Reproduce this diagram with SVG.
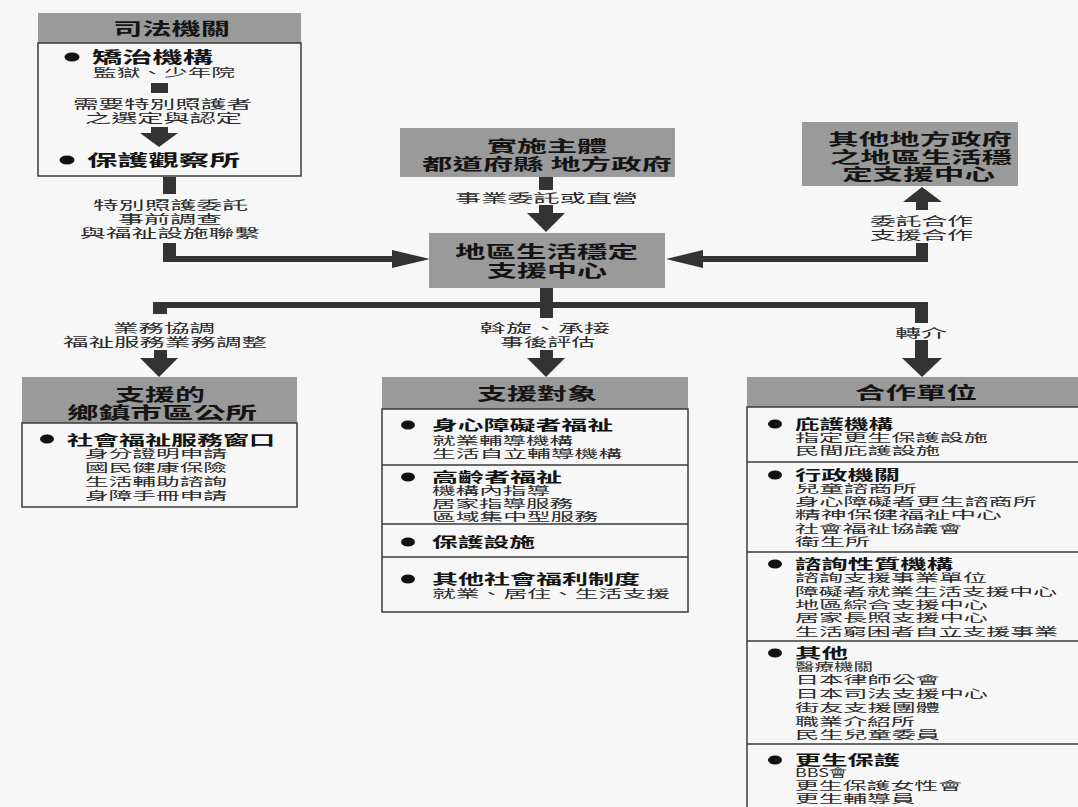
<svg xmlns="http://www.w3.org/2000/svg" width="1078" height="807" viewBox="0 0 1078 807">
  <defs>
    <style>
      .bg { fill: #f7f7f7; }
      .hdr { fill: #9a9a9a; }
      .box { fill: #f7f7f7; stroke: #3a3a3a; stroke-width: 1.5; }
      .div { stroke: #3a3a3a; stroke-width: 1.5; }
      .arw { fill: #333333; }
      .dot { fill: #111111; }
      text { font-family: "Noto Sans CJK TC", "Noto Sans CJK SC", sans-serif; fill: #141414; }
      .h { font-size: 16.5px; font-weight: bold; }
      .t { font-size: 15.5px; font-weight: bold; }
      .tb { font-size: 13.5px; font-weight: bold; }
      .i { font-size: 11.5px; fill: #2a2a2a; }
      .lb { font-size: 12.5px; fill: #2a2a2a; }
    </style>
  </defs>

  <rect class="bg" x="0" y="0" width="1078" height="807"/>

  <!-- connectors -->
  <g id="connectors">
    <!-- judiciary -> center -->
    <rect class="arw" x="163" y="177" width="13" height="17"/>
    <rect class="arw" x="163" y="243" width="13" height="19"/>
    <rect class="arw" x="163" y="256" width="230" height="6"/>
    <polygon class="arw" points="392,250 430,259 392,268"/>
    <!-- implementing body -> center -->
    <rect class="arw" x="539" y="177" width="14" height="13"/>
    <rect class="arw" x="539" y="205" width="14" height="9"/>
    <polygon class="arw" points="527,213 565,213 546,232"/>
    <!-- center <-> other local centers -->
    <polygon class="arw" points="666,259 703,250 703,268"/>
    <rect class="arw" x="702" y="256" width="226" height="6"/>
    <rect class="arw" x="916" y="243" width="12" height="19"/>
    <rect class="arw" x="916" y="201" width="12" height="9"/>
    <polygon class="arw" points="903,202 942,202 922,187"/>
    <!-- center -> three branches -->
    <rect class="arw" x="540" y="288" width="13" height="15"/>
    <rect class="arw" x="153" y="302" width="775" height="6"/>
    <rect class="arw" x="153" y="302" width="14" height="12"/>
    <rect class="arw" x="154" y="350" width="13" height="9"/>
    <polygon class="arw" points="140,358 178,358 159,377"/>
    <rect class="arw" x="540" y="302" width="13" height="16"/>
    <rect class="arw" x="540" y="350" width="13" height="9"/>
    <polygon class="arw" points="527,358 565,358 546,377"/>
    <rect class="arw" x="915" y="302" width="13" height="21"/>
    <rect class="arw" x="915" y="340" width="13" height="19"/>
    <polygon class="arw" points="902,358 942,358 922,377"/>
  </g>

  <!-- connector labels -->
  <g id="labels">
    <text class="lb" x="93" y="210" textLength="155" lengthAdjust="spacingAndGlyphs">特別照護委託</text>
    <text class="lb" x="118" y="224" textLength="104" lengthAdjust="spacingAndGlyphs">事前調查</text>
    <text class="lb" x="80" y="238" textLength="180" lengthAdjust="spacingAndGlyphs">與福祉設施聯繫</text>
    <text class="lb" x="455" y="203" textLength="183" lengthAdjust="spacingAndGlyphs">事業委託或直營</text>
    <text class="lb" x="870" y="226" textLength="103" lengthAdjust="spacingAndGlyphs">委託合作</text>
    <text class="lb" x="870" y="240" textLength="103" lengthAdjust="spacingAndGlyphs">支援合作</text>
    <text class="lb" x="113" y="333" textLength="102" lengthAdjust="spacingAndGlyphs">業務協調</text>
    <text class="lb" x="63" y="347" textLength="204" lengthAdjust="spacingAndGlyphs">福祉服務業務調整</text>
    <text class="lb" x="480" y="333" textLength="130" lengthAdjust="spacingAndGlyphs">斡旋、承接</text>
    <text class="lb" x="500" y="347" textLength="95" lengthAdjust="spacingAndGlyphs">事後評估</text>
    <text class="lb" x="895" y="338" textLength="52" lengthAdjust="spacingAndGlyphs">轉介</text>
  </g>

  <!-- judiciary -->
  <g id="judiciary">
    <rect class="hdr" x="38" y="13" width="263" height="30"/>
    <text class="h" x="113" y="35" textLength="117" lengthAdjust="spacingAndGlyphs">司法機關</text>
    <rect class="box" x="38" y="43" width="263" height="133"/>
    <ellipse class="dot" cx="72" cy="57" rx="7.5" ry="4.5"/>
    <text class="t" x="92" y="63" textLength="121" lengthAdjust="spacingAndGlyphs">矯治機構</text>
    <text class="i" x="93" y="77" textLength="142" lengthAdjust="spacingAndGlyphs">監獄、少年院</text>
    <rect class="arw" x="151" y="83" width="17" height="10"/>
    <text class="lb" x="73" y="109" textLength="179" lengthAdjust="spacingAndGlyphs">需要特別照護者</text>
    <text class="lb" x="85" y="123" textLength="157" lengthAdjust="spacingAndGlyphs">之選定與認定</text>
    <rect class="arw" x="151" y="127" width="17" height="7"/>
    <polygon class="arw" points="140,133 178,133 159,147"/>
    <ellipse class="dot" cx="67" cy="160" rx="7.5" ry="4.5"/>
    <text class="t" x="87" y="166" textLength="153" lengthAdjust="spacingAndGlyphs">保護觀察所</text>
  </g>

  <!-- implementing body -->
  <g id="implementer">
    <rect class="hdr" x="400" y="128" width="275" height="49"/>
    <text class="t" x="487" y="152" textLength="120" lengthAdjust="spacingAndGlyphs">實施主體</text>
    <text class="t" x="422" y="170" textLength="250" lengthAdjust="spacingAndGlyphs">都道府縣 地方政府</text>
  </g>

  <!-- regional centre -->
  <g id="center">
    <rect class="hdr" x="429" y="233" width="236" height="55"/>
    <text class="h" x="455" y="258" textLength="183" lengthAdjust="spacingAndGlyphs">地區生活穩定</text>
    <text class="h" x="487" y="277" textLength="120" lengthAdjust="spacingAndGlyphs">支援中心</text>
  </g>

  <!-- other local centres -->
  <g id="other-centers">
    <rect class="hdr" x="802" y="122" width="216" height="64"/>
    <text class="t" x="828" y="145" textLength="184" lengthAdjust="spacingAndGlyphs">其他地方政府</text>
    <text class="t" x="830" y="163" textLength="182" lengthAdjust="spacingAndGlyphs">之地區生活穩</text>
    <text class="t" x="842" y="180" textLength="153" lengthAdjust="spacingAndGlyphs">定支援中心</text>
  </g>

  <!-- municipal offices -->
  <g id="municipal">
    <rect class="hdr" x="22" y="377" width="275" height="46"/>
    <text class="h" x="115" y="401" textLength="90" lengthAdjust="spacingAndGlyphs">支援的</text>
    <text class="h" x="67" y="419" textLength="190" lengthAdjust="spacingAndGlyphs">鄉鎮市區公所</text>
    <rect class="box" x="22" y="423" width="275" height="84"/>
    <ellipse class="dot" cx="47" cy="439" rx="7" ry="4.5"/>
    <text class="tb" x="67" y="445" textLength="208" lengthAdjust="spacingAndGlyphs">社會福祉服務窗口</text>
    <text class="i" x="85" y="458" textLength="142" lengthAdjust="spacingAndGlyphs">身分證明申請</text>
    <text class="i" x="85" y="472" textLength="142" lengthAdjust="spacingAndGlyphs">國民健康保險</text>
    <text class="i" x="85" y="486" textLength="142" lengthAdjust="spacingAndGlyphs">生活輔助諮詢</text>
    <text class="i" x="85" y="500" textLength="142" lengthAdjust="spacingAndGlyphs">身障手冊申請</text>
  </g>

  <!-- support targets -->
  <g id="targets">
    <rect class="hdr" x="382" y="377" width="306" height="32"/>
    <text class="h" x="477" y="400" textLength="120" lengthAdjust="spacingAndGlyphs">支援對象</text>
    <rect class="box" x="382" y="409" width="306" height="203"/>
    <line class="div" x1="382" y1="465" x2="688" y2="465"/>
    <line class="div" x1="382" y1="524" x2="688" y2="524"/>
    <line class="div" x1="382" y1="557" x2="688" y2="557"/>
    <ellipse class="dot" cx="408" cy="425" rx="7" ry="4.5"/>
    <text class="tb" x="432" y="430" textLength="181" lengthAdjust="spacingAndGlyphs">身心障礙者福祉</text>
    <text class="i" x="432" y="445" textLength="141" lengthAdjust="spacingAndGlyphs">就業輔導機構</text>
    <text class="i" x="432" y="458" textLength="190" lengthAdjust="spacingAndGlyphs">生活自立輔導機構</text>
    <ellipse class="dot" cx="408" cy="477" rx="7" ry="4.5"/>
    <text class="tb" x="432" y="482" textLength="130" lengthAdjust="spacingAndGlyphs">高齡者福祉</text>
    <text class="i" x="432" y="495" textLength="118" lengthAdjust="spacingAndGlyphs">機構內指導</text>
    <text class="i" x="432" y="508" textLength="141" lengthAdjust="spacingAndGlyphs">居家指導服務</text>
    <text class="i" x="432" y="521" textLength="166" lengthAdjust="spacingAndGlyphs">區域集中型服務</text>
    <ellipse class="dot" cx="408" cy="542" rx="7" ry="4.5"/>
    <text class="tb" x="432" y="547" textLength="103" lengthAdjust="spacingAndGlyphs">保護設施</text>
    <ellipse class="dot" cx="408" cy="579" rx="7" ry="4.5"/>
    <text class="tb" x="432" y="584" textLength="208" lengthAdjust="spacingAndGlyphs">其他社會福利制度</text>
    <text class="i" x="432" y="598" textLength="238" lengthAdjust="spacingAndGlyphs">就業、居住、生活支援</text>
  </g>

  <!-- partner organisations -->
  <g id="partners">
    <rect class="hdr" x="747" y="377" width="340" height="30"/>
    <text class="h" x="855" y="399" textLength="122" lengthAdjust="spacingAndGlyphs">合作單位</text>
    <rect class="box" x="747" y="407" width="340" height="420"/>
    <line class="div" x1="747" y1="462" x2="1078" y2="462"/>
    <line class="div" x1="747" y1="552" x2="1078" y2="552"/>
    <line class="div" x1="747" y1="641" x2="1078" y2="641"/>
    <line class="div" x1="747" y1="744" x2="1078" y2="744"/>

    <ellipse class="dot" cx="775" cy="424" rx="7" ry="4.5"/>
    <text class="tb" x="795" y="429" textLength="98" lengthAdjust="spacingAndGlyphs">庇護機構</text>
    <text class="i" x="795" y="442" textLength="193" lengthAdjust="spacingAndGlyphs">指定更生保護設施</text>
    <text class="i" x="795" y="455" textLength="145" lengthAdjust="spacingAndGlyphs">民間庇護設施</text>

    <ellipse class="dot" cx="775" cy="475" rx="7" ry="4.5"/>
    <text class="tb" x="795" y="480" textLength="105" lengthAdjust="spacingAndGlyphs">行政機關</text>
    <text class="i" x="795" y="493" textLength="122" lengthAdjust="spacingAndGlyphs">兒童諮商所</text>
    <text class="i" x="795" y="506" textLength="242" lengthAdjust="spacingAndGlyphs">身心障礙者更生諮商所</text>
    <text class="i" x="795" y="519" textLength="207" lengthAdjust="spacingAndGlyphs">精神保健福祉中心</text>
    <text class="i" x="795" y="533" textLength="167" lengthAdjust="spacingAndGlyphs">社會福祉協議會</text>
    <text class="i" x="795" y="546" textLength="75" lengthAdjust="spacingAndGlyphs">衛生所</text>

    <ellipse class="dot" cx="775" cy="564" rx="7" ry="4.5"/>
    <text class="tb" x="795" y="569" textLength="158" lengthAdjust="spacingAndGlyphs">諮詢性質機構</text>
    <text class="i" x="795" y="582" textLength="192" lengthAdjust="spacingAndGlyphs">諮詢支援事業單位</text>
    <text class="i" x="795" y="596" textLength="262" lengthAdjust="spacingAndGlyphs">障礙者就業生活支援中心</text>
    <text class="i" x="795" y="609" textLength="193" lengthAdjust="spacingAndGlyphs">地區綜合支援中心</text>
    <text class="i" x="795" y="622" textLength="193" lengthAdjust="spacingAndGlyphs">居家長照支援中心</text>
    <text class="i" x="795" y="636" textLength="263" lengthAdjust="spacingAndGlyphs">生活窮困者自立支援事業</text>

    <ellipse class="dot" cx="775" cy="653" rx="7" ry="4.5"/>
    <text class="tb" x="795" y="658" textLength="53" lengthAdjust="spacingAndGlyphs">其他</text>
    <text class="i" x="795" y="671" textLength="78" lengthAdjust="spacingAndGlyphs">醫療機關</text>
    <text class="i" x="795" y="684" textLength="145" lengthAdjust="spacingAndGlyphs">日本律師公會</text>
    <text class="i" x="795" y="698" textLength="193" lengthAdjust="spacingAndGlyphs">日本司法支援中心</text>
    <text class="i" x="795" y="712" textLength="145" lengthAdjust="spacingAndGlyphs">街友支援團體</text>
    <text class="i" x="795" y="726" textLength="120" lengthAdjust="spacingAndGlyphs">職業介紹所</text>
    <text class="i" x="795" y="739" textLength="145" lengthAdjust="spacingAndGlyphs">民生兒童委員</text>

    <ellipse class="dot" cx="775" cy="760" rx="7" ry="4.5"/>
    <text class="tb" x="795" y="765" textLength="105" lengthAdjust="spacingAndGlyphs">更生保護</text>
    <text class="i" x="795" y="777" textLength="52" lengthAdjust="spacingAndGlyphs">BBS會</text>
    <text class="i" x="795" y="790" textLength="167" lengthAdjust="spacingAndGlyphs">更生保護女性會</text>
    <text class="i" x="795" y="803" textLength="120" lengthAdjust="spacingAndGlyphs">更生輔導員</text>
  </g>
</svg>
